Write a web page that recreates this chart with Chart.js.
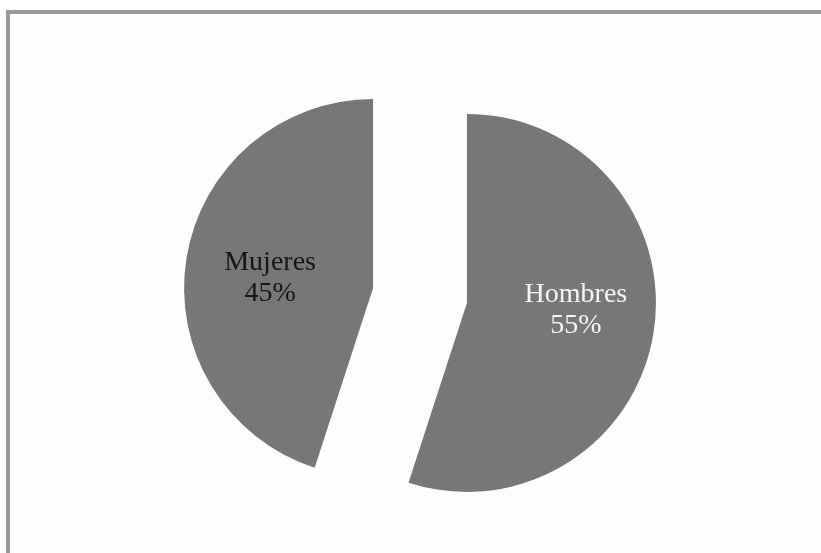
<!DOCTYPE html>
<html>
<head>
<meta charset="utf-8">
<script src="https://cdn.jsdelivr.net/npm/chart.js@4/dist/chart.umd.min.js"></script>
<style>
  html, body { margin: 0; padding: 0; background: #ffffff; }
  #wrap { position: relative; width: 821px; height: 553px; overflow: hidden; }
  #frame { position: absolute; left: 6px; top: 10px; right: -10px; bottom: -10px;
           border-left: 4px solid #999999; border-top: 4px solid #999999; background: #fdfdfd; }
  #c { position: absolute; left: 0; top: 0; }
</style>
</head>
<body>
<div id="wrap">
  <div id="frame"></div>
  <canvas id="c" width="821" height="553"></canvas>
</div>
<script>
// datos
var categorias = ['Hombres', 'Mujeres'];
var porcentajes = [55, 45];

// estilo
var SLICE_GRAY = '#777777';
var LABEL_COLORS = ['#f6f6f6', '#151515'];
var EXPLODE = 47.5;            // separación de cada porción
// posición de la etiqueta respecto al centro de su porción (px)
var LABEL_POS = [[109, -1], [-103, -18]];
var LINE_GAP = 31;

// separa las porciones a lo largo de su bisectriz
var explodePlugin = {
    id: 'explode',
    afterDatasetUpdate: function (chart, args) {
        var a = chart.chartArea;
        var cx = (a.left + a.right) / 2, cy = (a.top + a.bottom) / 2;
        args.meta.data.forEach(function (arc) {
            var mid = (arc.startAngle + arc.endAngle) / 2;
            arc.x = cx + Math.cos(mid) * EXPLODE;
            arc.y = cy + Math.sin(mid) * EXPLODE;
        });
    },
    afterDatasetsDraw: function (chart) {
        var ctx = chart.ctx;
        var meta = chart.getDatasetMeta(0);
        ctx.save();
        ctx.font = '28px "Liberation Serif", "Times New Roman", serif';
        ctx.textAlign = 'center';
        ctx.textBaseline = 'alphabetic';
        meta.data.forEach(function (arc, i) {
            var x = arc.x + LABEL_POS[i][0], y = arc.y + LABEL_POS[i][1];
            ctx.fillStyle = LABEL_COLORS[i];
            ctx.fillText(categorias[i], x, y);
            ctx.fillText(porcentajes[i] + '%', x, y + LINE_GAP);
        });
        ctx.restore();
    }
};

new Chart(document.getElementById('c'), {
    type: 'pie',
    data: {
        labels: categorias,
        datasets: [{
            data: porcentajes,
            backgroundColor: SLICE_GRAY,
            borderWidth: 0,
            hoverOffset: 0
        }]
    },
    options: {
        responsive: false,
        animation: false,
        events: [],
        radius: 189,
        layout: { padding: { left: 19, right: 0, top: 38, bottom: 0 } },
        plugins: { legend: { display: false }, tooltip: { enabled: false } }
    },
    plugins: [explodePlugin]
});
</script>
</body>
</html>
